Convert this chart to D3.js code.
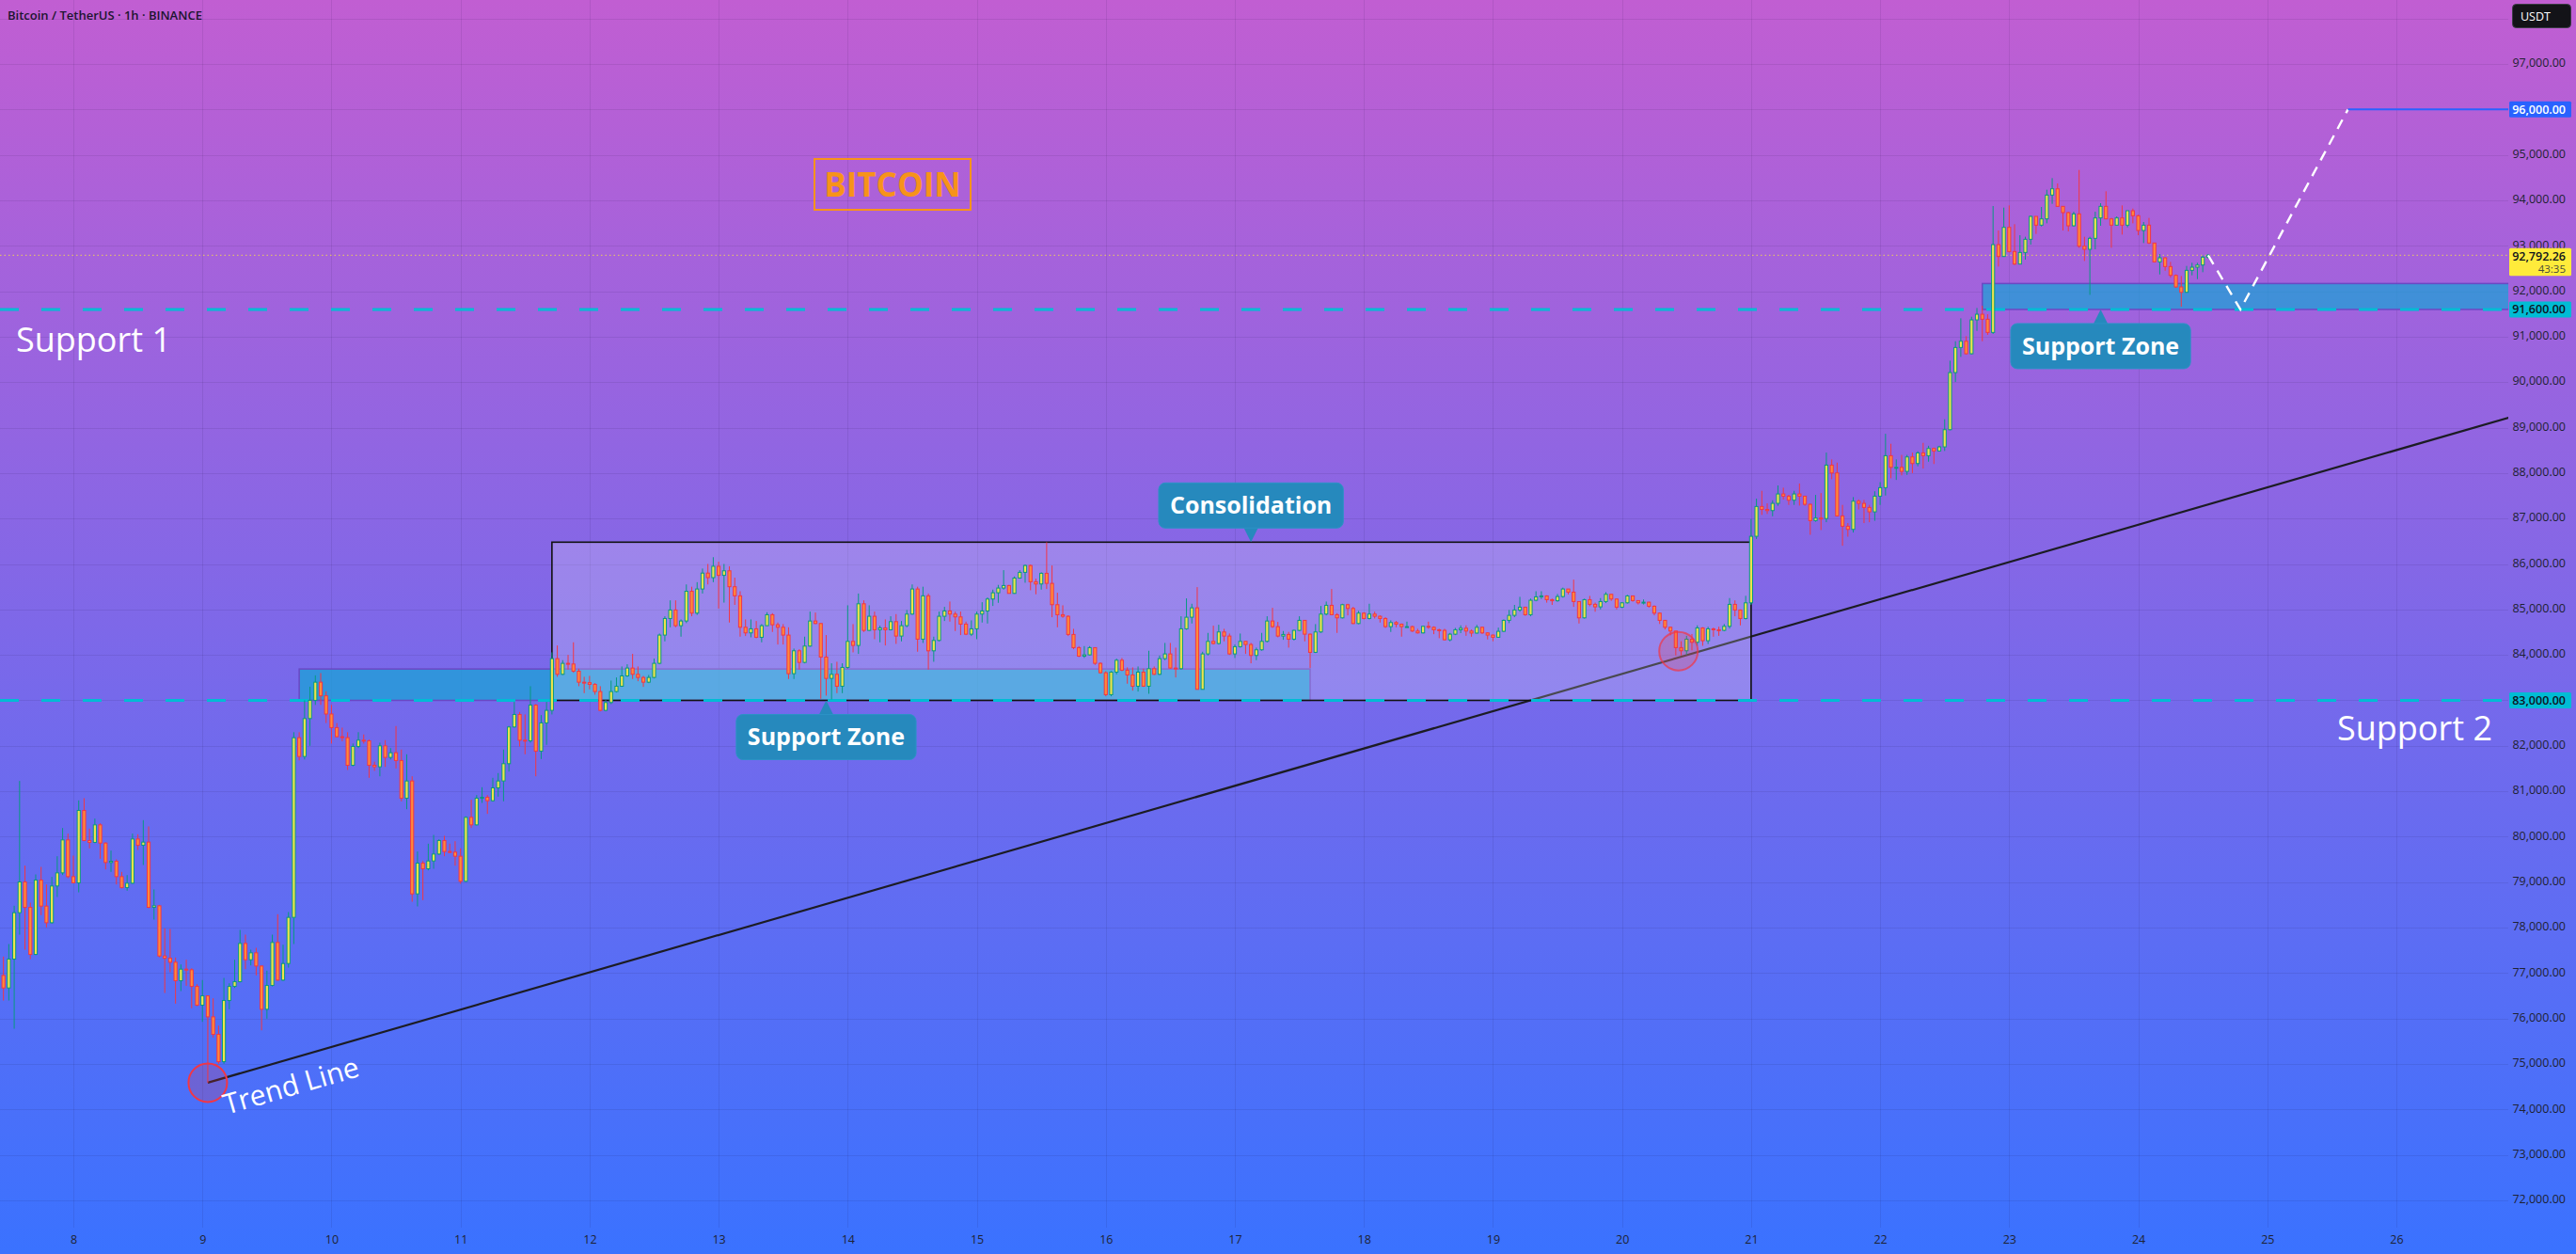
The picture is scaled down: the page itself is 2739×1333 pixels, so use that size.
<!DOCTYPE html>
<html>
<head>
<meta charset="utf-8">
<script src="https://cdn.jsdelivr.net/npm/d3@7"></script>
<style>
html,body{margin:0;padding:0;overflow:hidden;background:#3a72ff}
svg{display:block}
</style>
</head>
<body>
<script>
// hourly BTC/USDT bars, first bar 7 Apr 11:00 UTC
const firstBar = Date.UTC(2025, 3, 7, 11);
const firstOpen = 76949;
const closes = [
76673,77308,78329,79005,78446,77411,79047,78474,78108,78916,
79205,79930,79123,78985,80578,79916,79875,80261,79861,79433,
79461,79123,78881,78978,79950,79813,79882,78446,78481,77377,
77329,77239,76832,77087,77073,76707,76294,76500,76038,75652,
75052,76397,76707,76811,77653,77294,77446,77156,76204,76728,
77674,76846,77211,78226,82179,81765,82600,83000,83400,83100,
82700,82400,82200,82180,81572,81986,82124,82110,81572,81538,
81999,81745,81848,81676,80848,81227,78743,79419,79295,79467,
79619,79916,79675,79661,79571,79019,80427,80261,80848,80868,
80792,81075,81227,81607,82414,82690,82124,82110,82897,81883,
82504,82780,83918,83573,83815,83800,83642,83400,83390,83352,
83194,82780,82952,83194,83311,83538,83711,83573,83504,83400,
83504,83815,84436,84801,84988,84643,84746,85400,84919,85450,
85800,85700,85950,85750,85850,85500,85300,84608,84484,84574,
84387,84643,84884,84663,84608,84436,83587,84091,83835,84194,
84746,84691,83953,83483,83573,83311,83725,84298,84208,85125,
84539,84850,84553,84594,84553,84732,84415,84643,84898,85450,
84346,85300,84090,84318,84850,84967,84898,84836,84677,84456,
84574,84898,84967,85229,85367,85471,85526,85353,85691,85816,
85967,85609,85560,85795,85574,85105,84884,84850,84450,84160,
83973,84001,84160,83815,83608,83125,83621,83883,83663,83559,
83311,83621,83311,83697,83573,83918,84022,83711,83697,84574,
84829,85036,83242,84022,84298,84250,84505,84415,84022,84181,
84298,84229,83988,84112,84298,84746,84622,84415,84450,84346,
84540,84760,84456,84056,84505,84898,85091,84884,84815,85105,
85022,84690,84919,84801,84898,84850,84801,84622,84712,84677,
84622,84622,84525,84484,84629,84608,84553,84540,84333,84456,
84553,84587,84525,84480,84608,84484,84436,84388,84519,84760,
84870,84988,85050,84884,85202,85277,85298,85215,85191,85284,
85450,85381,85174,84815,85215,85112,85057,85174,85333,85229,
85050,85146,85298,85195,85146,85160,85070,84919,84760,84608,
84525,84160,84091,84346,84277,84594,84312,84573,84553,84540,
84629,85112,84988,84801,85146,86609,87265,87200,87175,87334,
87541,87492,87403,87541,87492,87313,86954,87010,87000,88175,
88003,87058,86830,86761,87382,87334,87244,87147,87492,87679,
88382,88127,88127,88037,88355,88210,88444,88382,88541,88486,
88576,88955,90211,90763,90901,90625,91370,91494,91384,91094,
93026,92764,93406,92874,92598,92853,93143,93647,93454,93592,
94116,94254,93868,93730,93440,93702,92991,92923,93164,93613,
93868,93592,93454,93613,93454,93771,93661,93337,93454,93061,
92646,92736,92543,92350,92095,91977,92460,92529,92577,92750,
92792.26];
const highs = [
77363,77639,78481,81227,79364,78550,79171,79336,78950,79116,
79571,80192,80068,79585,80799,80848,80178,80399,80296,79875,
79695,79502,79226,79157,80068,80054,80365,80227,78840,78500,
77984,77970,77342,77190,77294,77107,76756,76846,76500,76445,
75845,76894,76776,77294,77950,77846,77515,77556,77170,77053,
77846,78295,77625,78343,82300,82300,83000,83300,83550,83600,
83200,82900,82500,82400,82300,82050,82300,82250,82138,81650,
82069,82124,81950,82435,81917,81814,81330,79675,79467,79847,
80040,79944,80020,79847,79902,79744,80447,80813,80917,81089,
80917,81296,81400,81917,82435,82966,82745,82690,83311,82917,
82676,82966,84056,84208,83884,84001,84277,83697,83518,83538,
83380,83311,83021,83435,83504,83746,83794,84022,83746,83538,
83559,83918,84470,84850,85200,85200,84781,85550,85500,85600,
85900,86000,86150,86050,86000,85950,85700,85400,84781,84781,
84746,84677,84939,84919,84712,84677,84608,84139,84125,84401,
84953,84932,84691,84436,83815,83849,83815,85091,84677,85350,
85200,85091,84953,84643,84781,84850,84898,84746,84988,85550,
85500,85500,85350,84401,84953,85057,85174,84953,84953,84732,
84760,84953,85160,85264,85436,85540,85864,85540,85726,85864,
85988,85988,85678,85816,86478,85967,85367,85091,84870,84574,
84194,84194,84194,84160,83835,83642,83642,83918,83932,83725,
83725,83746,83697,84091,83746,83987,84263,84263,84160,84850,
85243,85125,85491,84070,84484,84643,84663,84574,84470,84229,
84470,84298,84263,84160,84484,84850,85036,84726,84525,84505,
84553,84850,84760,84470,84677,85077,85174,85450,84919,85125,
85125,85057,84967,84939,85125,84953,84870,84829,84760,84746,
84690,84732,84643,84574,84643,84732,84629,84574,84574,84484,
84594,84650,84650,84560,84660,84620,84500,84450,84600,84780,
84990,85100,85277,85060,85240,85400,85400,85310,85240,85340,
85480,85450,85656,85174,85236,85298,85150,85250,85380,85340,
85240,85160,85320,85300,85200,85220,85170,85090,84930,84770,
84620,84525,84300,84420,84460,84650,84610,84620,84600,84620,
84680,85250,85200,85000,85300,86989,87438,87610,87334,87400,
87728,87679,87520,87610,87770,87500,87330,87520,87560,88451,
88300,88230,87300,86900,87472,87420,87410,87300,87600,87800,
88865,88645,88300,88400,88400,88450,88480,88665,88600,88560,
88600,89183,90473,90901,91405,91011,91439,91632,91680,91494,
93875,93337,93840,93888,93475,93233,93199,93661,93647,93854,
94233,94489,94372,93868,93750,93750,94668,93199,93199,93750,
93937,94199,93613,93647,93888,93771,93820,93682,93523,93613,
93061,92819,92750,92646,92370,92336,92557,92626,92626,92785,
92820];
const lows = [
76397,76397,75776,77846,77515,77308,77397,78274,78005,78088,
78674,79157,79088,78985,78777,79902,79744,79861,79516,79281,
79226,78950,78860,78812,78964,79709,79378,78432,78177,77349,
76563,77018,76328,76604,76721,76225,76273,75928,74589,75583,
75003,75003,76204,76673,76797,77087,77170,76949,75741,75997,
76707,76832,76825,77121,77639,81680,81700,82000,82900,82900,
82500,82050,82190,82100,81469,81550,81950,82050,81296,81450,
81330,81537,81700,81503,80779,80606,78570,78467,78605,79260,
79295,79600,79571,79640,79364,78964,79005,80192,80247,80744,
80503,80772,80882,80779,81434,82400,81986,81814,82069,81330,
81710,82021,82690,83518,83559,83677,83608,83311,83159,83242,
83125,82759,82759,82917,83173,83297,83518,83470,83421,83297,
83380,83483,83794,84298,84608,84608,84401,84700,84850,84880,
85350,85550,85600,85020,85150,84712,85100,84401,84415,84387,
84367,84277,84643,84505,84229,84229,83470,83470,83677,83815,
84180,84677,83035,83104,83021,83159,83159,83697,84056,84022,
84505,84525,84346,84277,84208,84539,84242,84298,84608,84884,
84070,84263,83677,83849,84298,84746,84732,84525,84436,84436,
84415,84346,84712,84690,85077,85146,85436,85353,85346,85678,
85588,85422,85333,85436,85450,84829,84608,84815,84415,84125,
83953,83932,83987,83780,83587,83090,83090,83573,83642,83366,
83214,83194,83297,83145,83559,83559,83884,83697,83504,83677,
84553,84691,83242,83242,83987,84229,84229,84298,84001,83932,
84160,84022,83815,83884,84091,84277,84594,84387,84332,84160,
84318,84525,84298,83711,84042,84484,84870,84870,84484,84801,
84870,84677,84677,84781,84781,84801,84712,84594,84505,84608,
84401,84608,84505,84470,84470,84574,84456,84367,84318,84298,
84436,84480,84420,84400,84470,84460,84340,84300,84380,84500,
84700,84830,84950,84860,84850,85180,85230,85150,85100,85170,
85260,85330,85057,84691,84800,85070,84950,85000,85140,85190,
85000,85030,85130,85170,85110,85110,85040,84870,84680,84560,
84430,83987,83987,84000,84100,84200,84200,84240,84400,84420,
84520,84580,84850,84650,84780,85100,86550,87080,87100,87050,
87280,87420,87300,87300,87285,87280,86643,86930,86747,86920,
87865,87044,86402,86600,86692,87200,86900,86920,86950,87300,
87506,87886,87850,87950,87960,88000,88150,88100,88250,88200,
88480,88486,88941,90004,90556,90610,90610,91128,90901,91039,
91060,92543,92764,92853,92577,92598,92695,93026,93261,93426,
93495,93923,93854,93337,93316,93426,92957,92667,91922,92923,
93440,93592,92957,93454,93247,93406,93495,93233,93061,93040,
92646,92370,92450,92300,92075,91660,91977,92350,92267,92419,
92715];

const priceTicks = [72000,73000,74000,75000,76000,77000,78000,79000,80000,81000,82000,83000,84000,
  85000,86000,87000,88000,89000,90000,91000,92000,93000,94000,95000,96000,97000,98000];
const dayTicks = [8,9,10,11,12,13,14,15,16,17,18,19,20,21,22,23,24,25,26];

// levels and drawings (time, price)
const support1 = 91600, support2 = 83000, targetPrice = 96000, lastPrice = 92792.26;
const countdown = '43:35';
const lowZone = [Date.UTC(2025,3,9,18), Date.UTC(2025,3,17,14), 83000, 83690];
const consBox = [Date.UTC(2025,3,11,17), Date.UTC(2025,3,21,0), 83000, 86480];
const highZone = [Date.UTC(2025,3,22,19), 91600, 92170];
const trendPts = [[Date.UTC(2025,3,9,1), 74589], [Date.UTC(2025,3,26,21), 89224]];
const pathPts = [[Date.UTC(2025,3,24,13), 92792], [Date.UTC(2025,3,24,19), 91600], [Date.UTC(2025,3,25,15), 96000]];
const circles = [[Date.UTC(2025,3,9,1), 74589], [Date.UTC(2025,3,20,10,30), 84083]];
const callouts = [
  {text: 'Consolidation', t: Date.UTC(2025,3,17,3), p: 86480, below: false},
  {text: 'Support Zone', t: Date.UTC(2025,3,13,20), p: 83000, below: true},
  {text: 'Support Zone', t: Date.UTC(2025,3,23,17), p: 91600, below: true}
];

const W = 2739, H = 1333, plotR = 2667, plotB = 1305;
const font = "'Open Sans', sans-serif";

const svg = d3.select('body').append('svg').attr('width', W).attr('height', H);
const defs = svg.append('defs');
const bg = defs.append('linearGradient').attr('id', 'bg')
  .attr('x1', 0).attr('x2', 0).attr('y1', 0).attr('y2', 1);
bg.append('stop').attr('offset', '0%').attr('stop-color', '#c15ed2');
bg.append('stop').attr('offset', '100%').attr('stop-color', '#3a72ff');
defs.append('clipPath').attr('id', 'plot').append('rect')
  .attr('width', plotR).attr('height', plotB);

svg.append('rect').attr('width', W).attr('height', H).attr('fill', 'url(#bg)');

const x = d3.scaleUtc()
  .domain([Date.UTC(2025,3,8), Date.UTC(2025,3,26)])
  .range([78, 2548]);
const y = d3.scaleLinear().domain([72000, 97000]).range([1276, 68]);

// grid
const grid = svg.append('g').attr('clip-path', 'url(#plot)')
  .attr('stroke', 'rgba(20,10,60,0.09)').attr('stroke-width', 1);
grid.selectAll('.h').data(priceTicks).join('line')
  .attr('x1', 0).attr('x2', plotR)
  .attr('y1', d => Math.round(y(d)) + 0.5).attr('y2', d => Math.round(y(d)) + 0.5);
grid.selectAll('.v').data(dayTicks).join('line')
  .attr('y1', 0).attr('y2', plotB)
  .attr('x1', d => Math.round(x(Date.UTC(2025,3,d))) + 0.5)
  .attr('x2', d => Math.round(x(Date.UTC(2025,3,d))) + 0.5);

const plot = svg.append('g').attr('clip-path', 'url(#plot)');

// zones and box
plot.append('rect')
  .attr('x', x(lowZone[0])).attr('width', x(lowZone[1]) - x(lowZone[0]))
  .attr('y', y(lowZone[3])).attr('height', y(lowZone[2]) - y(lowZone[3]))
  .attr('fill', 'rgb(30,160,215)').attr('fill-opacity', 0.78)
  .attr('stroke', '#6a48c4').attr('stroke-width', 1.5);
plot.append('rect')
  .attr('x', x(highZone[0])).attr('width', plotR + 10 - x(highZone[0]))
  .attr('y', y(highZone[2])).attr('height', y(highZone[1]) - y(highZone[2]))
  .attr('fill', 'rgb(30,160,215)').attr('fill-opacity', 0.74)
  .attr('stroke', '#6a48c4').attr('stroke-width', 1.5);

// trend line
plot.append('line')
  .attr('x1', x(trendPts[0][0])).attr('y1', y(trendPts[0][1]))
  .attr('x2', x(trendPts[1][0])).attr('y2', y(trendPts[1][1]))
  .attr('stroke', '#1c1c24').attr('stroke-width', 2.2);

plot.append('rect')
  .attr('x', x(consBox[0])).attr('width', x(consBox[1]) - x(consBox[0]))
  .attr('y', y(consBox[3])).attr('height', y(consBox[2]) - y(consBox[3]))
  .attr('fill', '#ffffff').attr('fill-opacity', 0.2)
  .attr('stroke', '#111').attr('stroke-width', 1.6);

// support dashed lines
plot.selectAll('.sup').data([support1, support2]).join('line')
  .attr('x1', 0).attr('x2', plotR)
  .attr('y1', d => y(d)).attr('y2', d => y(d))
  .attr('stroke', '#00bcd4').attr('stroke-width', 3)
  .attr('stroke-dasharray', '20,24');

// last price dotted line
plot.append('line')
  .attr('x1', 0).attr('x2', plotR)
  .attr('y1', y(lastPrice)).attr('y2', y(lastPrice))
  .attr('stroke', '#ffeb3b').attr('stroke-opacity', 0.8).attr('stroke-width', 1)
  .attr('stroke-dasharray', '1.5,3');

// candles
const n = Math.min(closes.length, highs.length, lows.length);
const bars = d3.range(n).map(i => {
  const o = i ? closes[i - 1] : firstOpen, c = closes[i];
  return {t: firstBar + i * 3600e3, o, c,
    h: Math.max(highs[i], o, c), l: Math.min(lows[i], o, c)};
});
const cg = plot.append('g');
cg.selectAll('line').data(bars).join('line')
  .attr('x1', d => x(d.t)).attr('x2', d => x(d.t))
  .attr('y1', d => y(d.h)).attr('y2', d => y(d.l))
  .attr('stroke', d => d.c >= d.o ? '#089981' : '#f23645').attr('stroke-width', 1);
cg.selectAll('rect').data(bars).join('rect')
  .attr('x', d => x(d.t) - 1.6).attr('width', 3.2)
  .attr('y', d => y(Math.max(d.o, d.c)))
  .attr('height', d => Math.max(1, Math.abs(y(d.o) - y(d.c))))
  .attr('fill', d => d.c >= d.o ? '#efe44a' : '#ff8a3a')
  .attr('stroke', d => d.c >= d.o ? '#089981' : '#f23645').attr('stroke-width', 1);

// circles
plot.selectAll('.circ').data(circles).join('circle')
  .attr('cx', d => x(d[0])).attr('cy', d => y(d[1])).attr('r', 20.5)
  .attr('fill', '#f23645').attr('fill-opacity', 0.2)
  .attr('stroke', '#f23645').attr('stroke-width', 2)
  .attr('stroke-opacity', (d, i) => i ? 0.7 : 1);

// projection path and target line
plot.append('path')
  .attr('d', d3.line().x(d => x(d[0])).y(d => y(d[1]))(pathPts))
  .attr('fill', 'none').attr('stroke', '#fff').attr('stroke-width', 2.4)
  .attr('stroke-dasharray', '11,8');
plot.append('line')
  .attr('x1', x(pathPts[2][0])).attr('x2', plotR)
  .attr('y1', y(targetPrice)).attr('y2', y(targetPrice))
  .attr('stroke', '#2962ff').attr('stroke-width', 2);

// text labels
const t0 = x(trendPts[0][0]), ty0 = y(trendPts[0][1]);
const ang = Math.atan2(y(trendPts[1][1]) - ty0, x(trendPts[1][0]) - t0) * 180 / Math.PI;
plot.append('text')
  .attr('transform', `translate(${t0 + 20},${ty0 + 34}) rotate(${ang})`)
  .attr('font-family', font).attr('font-size', 30).attr('fill', '#fff')
  .text('Trend Line');

plot.append('text').attr('x', 17).attr('y', y(support1) + 45)
  .attr('font-family', font).attr('font-size', 36).attr('fill', '#fff').text('Support 1');
plot.append('text').attr('x', 2650).attr('y', y(support2) + 43)
  .attr('text-anchor', 'end')
  .attr('font-family', font).attr('font-size', 36).attr('fill', '#fff').text('Support 2');

const btc = plot.append('g');
btc.append('rect').attr('x', 866).attr('y', 169).attr('width', 166).attr('height', 54)
  .attr('fill', 'none').attr('stroke', '#f7931a').attr('stroke-width', 2);
btc.append('text').attr('x', 949).attr('y', 209).attr('text-anchor', 'middle')
  .attr('font-family', font).attr('font-weight', 700).attr('font-size', 35)
  .attr('fill', '#f7931a').text('BITCOIN');

callouts.forEach(c => {
  const px = x(c.t), py = y(c.p), ph = 15, bh = 48;
  const g = svg.append('g');
  const txt = g.append('text').attr('font-family', font).attr('font-weight', 700)
    .attr('font-size', 25).attr('fill', '#fff').attr('text-anchor', 'middle').text(c.text);
  const tw = txt.node().getComputedTextLength();
  const bw = tw + 24;
  const by = c.below ? py + ph : py - ph - bh;
  const baseY = c.below ? by + 1 : by + bh - 1;
  g.insert('path', 'text')
    .attr('d', `M${px - 8},${baseY} L${px},${py} L${px + 8},${baseY} Z`)
    .attr('fill', '#2689bd');
  g.insert('rect', 'text').attr('x', px - bw / 2).attr('y', by)
    .attr('width', bw).attr('height', bh).attr('rx', 7)
    .attr('fill', '#2689bd').attr('stroke', '#2c92c6').attr('stroke-width', 1);
  txt.attr('x', px).attr('y', by + bh / 2 + 9);
});

// axes
const yAxis = svg.append('g').attr('transform', `translate(2731,0)`)
  .call(d3.axisLeft(y).tickValues(priceTicks.filter(d => d <= 97000))
    .tickFormat(d3.format(',.2f')).tickSize(0).tickPadding(3));
yAxis.select('.domain').remove();
yAxis.selectAll('text').attr('font-family', font).attr('font-size', 12.5).attr('fill', '#1e2233')
  .attr('dy', '0.22em');

const xAxis = svg.append('g').attr('transform', `translate(0,${plotB})`)
  .call(d3.axisBottom(x).tickValues(dayTicks.map(d => new Date(Date.UTC(2025,3,d))))
    .tickFormat(d => d.getUTCDate()).tickSize(0).tickPadding(8));
xAxis.select('.domain').remove();
xAxis.selectAll('text').attr('font-family', font).attr('font-size', 12.5).attr('fill', '#1e2233');

// price badges
function badge(price, fill, color, label) {
  const cy = y(price);
  svg.append('rect').attr('x', 2668).attr('y', cy - 8.5).attr('width', 66).attr('height', 17)
    .attr('rx', 1.5).attr('fill', fill);
  svg.append('text').attr('x', 2728).attr('y', cy + 4.5).attr('text-anchor', 'end')
    .attr('font-family', font).attr('font-size', 12.5).attr('fill', color)
    .attr('font-weight', 600).text(label);
}
badge(targetPrice, '#2962ff', '#ffffff', d3.format(',.2f')(targetPrice));
badge(support1, '#00bcd4', '#10131c', d3.format(',.2f')(support1));
badge(support2, '#00bcd4', '#10131c', d3.format(',.2f')(support2));

const ly = y(lastPrice);
svg.append('rect').attr('x', 2668).attr('y', ly - 7.5).attr('width', 66).attr('height', 29.5)
  .attr('rx', 1.5).attr('fill', '#ffeb3b');
svg.append('text').attr('x', 2728).attr('y', ly + 5.5).attr('text-anchor', 'end')
  .attr('font-family', font).attr('font-size', 12.5).attr('font-weight', 600).attr('fill', '#10131c')
  .text(d3.format(',.2f')(lastPrice));
svg.append('text').attr('x', 2728).attr('y', ly + 18.5).attr('text-anchor', 'end')
  .attr('font-family', font).attr('font-size', 11.5).attr('fill', '#4a4a3a').text(countdown);

// currency badge and title
svg.append('rect').attr('x', 2671.5).attr('y', 4.5).attr('width', 62).attr('height', 25)
  .attr('rx', 4).attr('fill', '#131318').attr('stroke', '#3a3a44');
svg.append('text').attr('x', 2680).attr('y', 21.5)
  .attr('font-family', font).attr('font-size', 12.5).attr('fill', '#fff').text('USDT');

svg.append('text').attr('x', 8).attr('y', 21)
  .attr('font-family', font).attr('font-size', 13).attr('font-weight', 600).attr('fill', '#1c1530')
  .text('Bitcoin / TetherUS \u00b7 1h \u00b7 BINANCE');
</script>
</body>
</html>
